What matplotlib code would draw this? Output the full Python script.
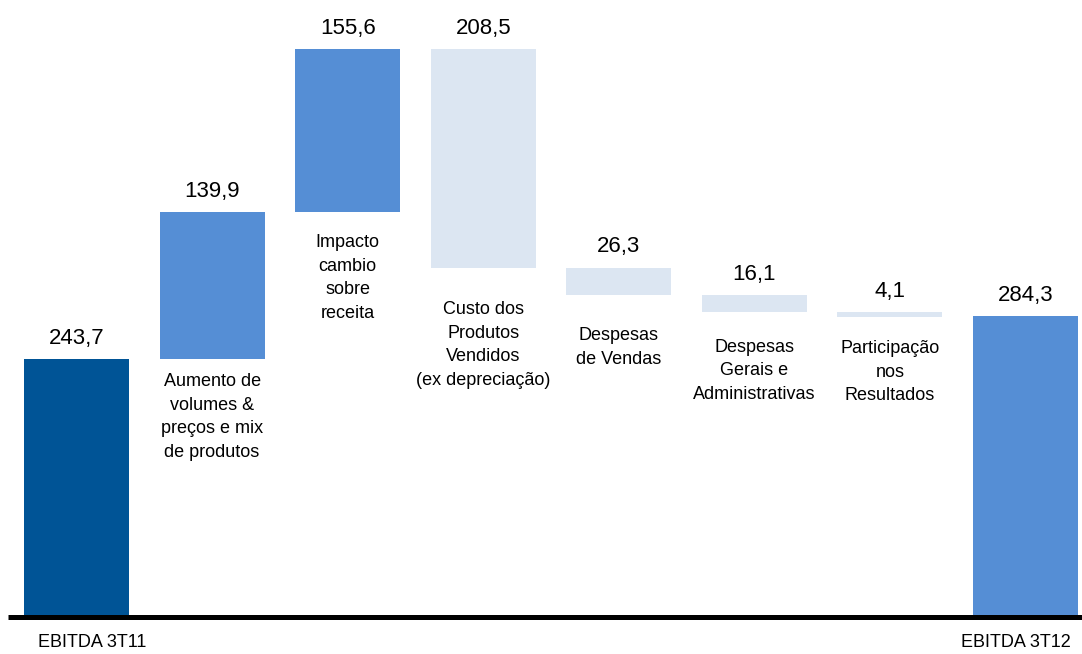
import matplotlib.pyplot as plt
import numpy as np

# Dados do gráfico (R$ milhões)
categorias = ["EBITDA 3T11",
              "Aumento de\nvolumes &\npreços e mix\nde produtos",
              "Impacto\ncambio\nsobre\nreceita",
              "Custo dos\nProdutos\nVendidos\n(ex depreciação)",
              "Despesas\nde Vendas",
              "Despesas\nGerais e\nAdministrativas",
              "Participação\nnos\nResultados",
              "EBITDA 3T12"]
variacoes = [243.7, 139.9, 155.6, -208.5, -26.3, -16.1, -4.1, 284.3]
rotulos = ["243,7", "139,9", "155,6", "208,5", "26,3", "16,1", "4,1", "284,3"]
tipos = ["total", "pos", "pos", "neg", "neg", "neg", "neg", "final"]

cores = {"total": "#005496", "pos": "#558ED5", "neg": "#DCE6F2", "final": "#558ED5"}

plt.rcParams['font.family'] = ['Liberation Sans', 'DejaVu Sans']

# bases e topos das barras
bases, alturas = [], []
acum = 0
for v, t in zip(variacoes, tipos):
    if t in ("total", "final"):
        bases.append(0)
        alturas.append(v)
        acum = v
    elif v >= 0:
        bases.append(acum)
        alturas.append(v)
        acum += v
    else:
        bases.append(acum + v)
        alturas.append(-v)
        acum += v

x = np.arange(len(variacoes))

fig = plt.figure(figsize=(10.82, 6.54), dpi=100)
ax = fig.add_axes([0, 0, 1, 1])
passo = 135.57
ax.set_xlim(-76.5 / passo, (1082 - 76.5) / passo)
esc = 1.05
ax.set_ylim(-39 / esc, 615 / esc)
ax.axis("off")

ax.bar(x, alturas, bottom=bases, width=0.775,
       color=[cores[t] for t in tipos], linewidth=0)

# linha de base
ax.hlines(-2.4 / esc, (8 - 76.5) / passo, (1082 - 76.5) / passo,
          color="black", linewidth=3.6)

# valores acima das barras
for xi, b, h, r in zip(x, bases, alturas, rotulos):
    ax.annotate(r, (xi, b + h), xytext=(0, 11), textcoords="offset points",
                ha="center", va="baseline", fontsize=16)

# rótulos das categorias intermediárias (abaixo das barras)
gaps = [10, 16, 24, 23, 19, 17]
for i, g in zip(range(1, 7), gaps):
    ax.annotate(categorias[i], (x[i], bases[i]), xytext=(0, -g),
                textcoords="offset points", ha="center", va="top",
                fontsize=13, linespacing=1.5)

# rótulos dos totais abaixo da linha base
ax.annotate(categorias[0], (x[0], 0), xytext=(11, -19.5), textcoords="offset points",
            ha="center", va="center", fontsize=13)
ax.annotate(categorias[7], (x[7], 0), xytext=(-7, -19.5), textcoords="offset points",
            ha="center", va="center", fontsize=13)

fig.savefig("out.png", dpi=100)
